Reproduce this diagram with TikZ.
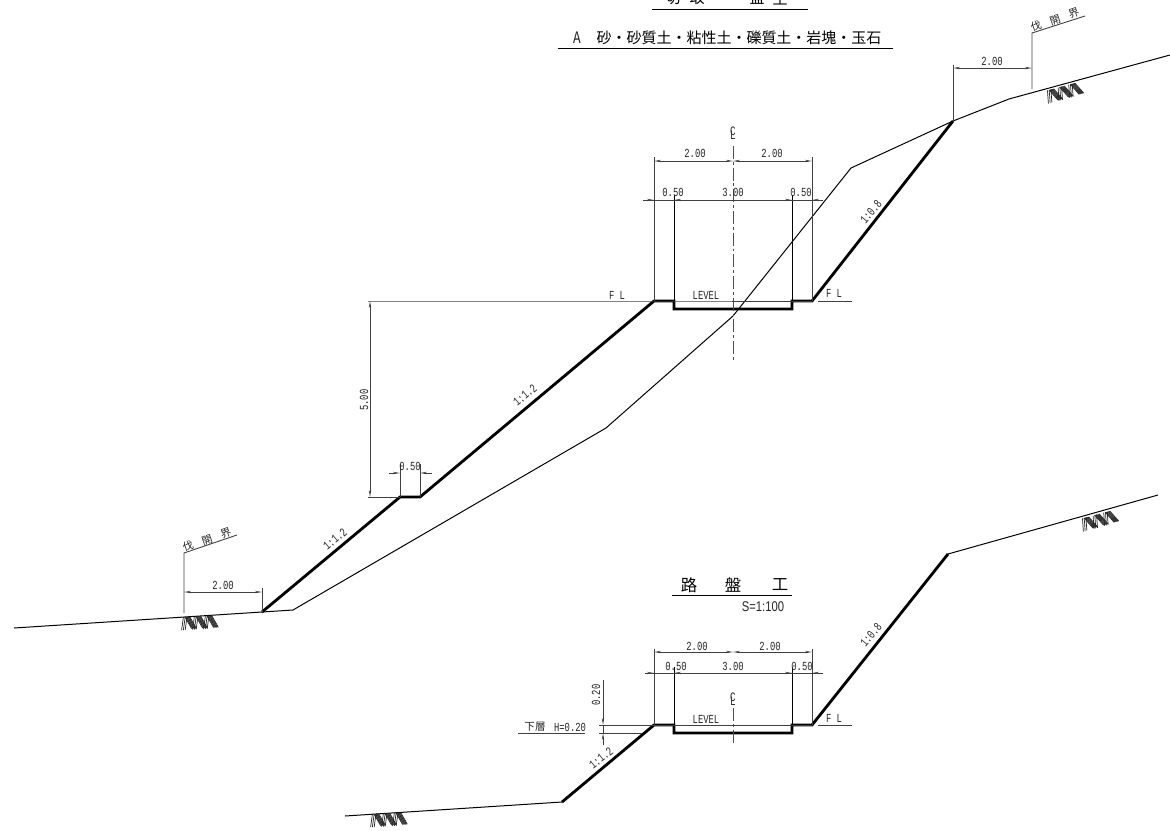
\documentclass[tikz,border=0pt]{standalone}
\usepackage{fontspec}
\setmainfont{Liberation Sans}
\newfontfamily\cadfont[FakeStretch=0.72]{Liberation Mono}
\newfontfamily\scalefont[FakeStretch=0.8]{Liberation Sans}
\newfontfamily\cjk{Noto Sans CJK JP}
\usetikzlibrary{arrows.meta}
\newcommand{\clmark}{\makebox[0pt]{C}\makebox[0pt]{\raisebox{-3.5pt}{L}}}
\tikzset{
  thinline/.style={line width=.85pt},
  thickline/.style={line width=2.4pt,line join=miter},
  dimline/.style={line width=.75pt,black!75},
  dimtip/.style={dimline,-{Stealth[length=6pt,width=2pt]}},
  dimarrow/.style={dimline,{Stealth[length=6pt,width=2pt]}-{Stealth[length=6pt,width=2pt]}},
  centerline/.style={line width=.85pt,black!70,dash pattern=on 11pt off 2.5pt on 2.5pt off 2.5pt},
  cadtext/.style={font=\cadfont\fontsize{10.5}{11}\selectfont,inner sep=0pt,black!85},
  cjktext/.style={font=\cjk\fontsize{9}{10}\selectfont,inner sep=0pt,black!85},
  titletext/.style={font=\cjk\fontsize{12.8}{14}\selectfont,inner sep=0pt},
  headtext/.style={font=\cjk\fontsize{14}{15}\selectfont,inner sep=0pt},
  cltext/.style={font=\cadfont\fontsize{11}{12}\selectfont,inner sep=0pt,black!85},
  groundmark/.pic={
    \foreach \c in {0,11,22}{
      \foreach \i in {0,.8,1.6,2.4,3.2,4,4.8}
        \draw[line width=.6pt,black!85] (\c+\i,0) -- (\c+\i+6,12);
      \foreach \i in {0,1.8,3.6}
        \draw[line width=.6pt,black!85] (\c-\i+2,0) -- (\c-\i-.5,13);
    }
  }
}
\begin{document}
\begin{tikzpicture}
  [x=.03cm,y=-.03cm]
  \useasboundingbox (0,0) rectangle (1170,830);
  % upper section
  \coordinate (g1) at (14,628);
  \coordinate (g2) at (262,612);
  \coordinate (g3) at (293,610);
  \coordinate (g4) at (606,428);
  \coordinate (g5) at (733,316);
  \coordinate (g6) at (851,168);
  \coordinate (g7) at (953,121);
  \coordinate (g8) at (1009,99);
  \coordinate (g9) at (1170,55);
  \coordinate (b1) at (400,497);
  \coordinate (b2) at (420,497);
  \coordinate (f1) at (654,301);
  \coordinate (f2) at (674,301);
  \coordinate (f3) at (674,309);
  \coordinate (f4) at (792,309);
  \coordinate (f5) at (792,301);
  \coordinate (f6) at (812,301);
  \draw[thinline] (g1) -- (g2) -- (g3) -- (g4) -- (g5) -- (g6) -- (g7) -- (g8) -- (g9);
  \draw[thickline] (g2) -- (b1) -- (b2) -- (f1) -- (f2) -- (f3) -- (f4) -- (f5) -- (f6) -- (g7);
  \draw[centerline] (733,146) -- (733,361);
  \node (cl1)[cltext] at (733,133) {\clmark};
  % upper dimensions
  \draw[dimline] (368,301) -- (f1) -- (f6);
  \draw[dimline] (818,301) -- (852,301);
  \draw[dimline] (368,497) -- (b1);
  \draw[dimarrow] (370,301) -- (370,497);
  \node (d500)[cadtext,rotate=90] at (364,400) {5.00};
  \draw[dimline] (b1) -- (400,464);
  \draw[dimline] (b2) -- (420,464);
  \draw[dimtip] (389,473) -- (400,473);
  \draw[dimtip] (432,473) -- (420,473);
  \node (d050a)[cadtext] at (410,466) {0.50};
  \draw[dimline] (f1) -- (654,157);
  \draw[dimline] (f6) -- (812,157);
  \draw[thinline] (f2) -- (674,195);
  \draw[thinline] (f5) -- (792,195);
  \draw[dimarrow] (654,161) -- (733,161);
  \draw[dimarrow] (733,161) -- (812,161);
  \node (d200a)[cadtext] at (695,153) {2.00};
  \node (d200b)[cadtext] at (772,153) {2.00};
  \draw[dimline] (643,200) -- (823,200);
  \foreach \from/\to in {643/654,686/674,780/792,823/812}
    \draw[dimtip] (\from,200) -- (\to,200);
  \node (d050b)[cadtext] at (673,192) {0.50};
  \node (d300a)[cadtext] at (733,192) {3.00};
  \node (d050c)[cadtext] at (801,192) {0.50};
  \node (lv1)[cadtext] at (706,295) {LEVEL};
  \node (fl1)[cadtext] at (617,295) {F L};
  \node (fl2)[cadtext] at (834,293) {F L};
  \node (s1)[cadtext,rotate=40] at (525,395) {1:1.2};
  \node (s2)[cadtext,rotate=40] at (335,539) {1:1.2};
  \node (s3)[cadtext,rotate=50] at (871,212) {1:0.8};
  % boundary, left
  \draw[dimline] (184,613) -- (184,553) -- (237,535);
  \draw[dimline] (262,588) -- (g2);
  \draw[dimarrow] (184,592) -- (262,592);
  \node (d200c)[cadtext] at (223,585) {2.00};
  \node (bd1)[cjktext,rotate=19] at (207,540) {伐\hspace{8pt}開\hspace{8pt}界};
  \pic[rotate=3] at (185,617) {groundmark};
  % boundary, right
  \draw[dimline] (1032,89) -- (1032,33) -- (1085,16);
  \draw[dimline] (953,65) -- (g7);
  \draw[dimarrow] (953,68) -- (1032,68);
  \node (d200d)[cadtext] at (992,61) {2.00};
  \node (bd2)[cjktext,rotate=19] at (1055,20) {伐\hspace{8pt}開\hspace{8pt}界};
  \pic[rotate=15] at (1049,90) {groundmark};
  % titles
  \foreach \x/\t in {673/切,697/取,726/・,757/盛,780/土}
    \node[titletext] at (\x,-2) {\t};
  \draw[thinline] (652,9) -- (808,9);
  \node (t2a)[cadtext,font=\cadfont\fontsize{15}{16}\selectfont] at (577,38) {A};
  \node (t2b)[titletext] at (739,38) {砂・砂質土・粘性土・礫質土・岩塊・玉石};
  \draw[thinline] (558,48) -- (893,48);
  % lower section
  \coordinate (h1) at (345,816);
  \coordinate (h2) at (562,802);
  \coordinate (h3) at (948,554);
  \coordinate (h4) at (1158,495);
  \coordinate (k1) at (654,725);
  \coordinate (k2) at (674,725);
  \coordinate (k3) at (674,733);
  \coordinate (k4) at (792,733);
  \coordinate (k5) at (792,725);
  \coordinate (k6) at (812,725);
  \draw[thinline] (h1) -- (h2);
  \draw[thinline] (h3) -- (h4);
  \draw[thickline] (h2) -- (k1) -- (k2) -- (k3) -- (k4) -- (k5) -- (k6) -- (h3);
  \pic[rotate=3] at (374,814) {groundmark};
  \pic[rotate=15] at (1084,518) {groundmark};
  \node (t3)[headtext] at (689,585) {路};
  \node (t4)[headtext] at (733,585) {盤};
  \node (t5)[headtext] at (780,585) {工};
  \draw[thinline] (672,595) -- (792,595);
  \node (sc)[cadtext,font=\scalefont\fontsize{12}{13}\selectfont] at (763,607) {S=1:100};
  % lower dimensions
  \draw[dimline] (k1) -- (654,649);
  \draw[dimline] (k6) -- (812,649);
  \draw[thinline] (k2) -- (674,667);
  \draw[thinline] (k5) -- (792,667);
  \draw[dimarrow] (654,652) -- (733,652);
  \draw[dimarrow] (733,652) -- (812,652);
  \node (d200e)[cadtext] at (697,646) {2.00};
  \node (d200f)[cadtext] at (770,646) {2.00};
  \draw[dimline] (645,673) -- (823,673);
  \foreach \from/\to in {645/654,686/674,780/792,823/812}
    \draw[dimtip] (\from,673) -- (\to,673);
  \node (d050d)[cadtext] at (676,666) {0.50};
  \node (d300b)[cadtext] at (733,666) {3.00};
  \node (d050e)[cadtext] at (802,666) {0.50};
  \draw[dimline] (599,725) -- (k1) -- (k6);
  \draw[dimline] (599,733) -- (642,733);
  \draw[dimline] (818,725) -- (852,725);
  \draw[dimtip] (603,680) -- (603,725);
  \draw[dimtip] (603,745) -- (603,733);
  \draw[dimline] (603,725) -- (603,733);
  \node (d020)[cadtext,rotate=90] at (596,695) {0.20};
  \draw[centerline] (733,708) -- (733,745);
  \node (cl2)[cltext] at (733,699) {\clmark};
  \node (lv2)[cadtext] at (706,719) {LEVEL};
  \node (fl3)[cadtext] at (834,718) {F L};
  \node (lay1)[cjktext] at (535,727) {下層};
  \node (lay2)[cadtext] at (570,727) {H=0.20};
  \draw[dimline] (518,733) -- (585,733);
  \node (s4)[cadtext,rotate=38] at (601,758) {1:1.2};
  \node (s5)[cadtext,rotate=50] at (871,635) {1:0.8};
\end{tikzpicture}
\end{document}
